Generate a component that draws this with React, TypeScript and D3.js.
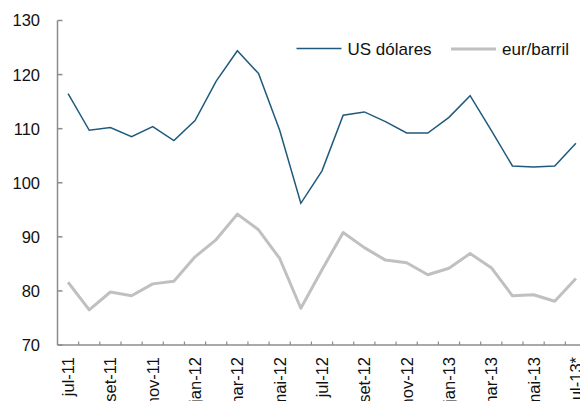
import * as d3 from "d3";
import { useEffect, useRef } from "react";

const months = [
  "jul-11", "ago-11", "set-11", "out-11", "nov-11", "dez-11",
  "jan-12", "fev-12", "mar-12", "abr-12", "mai-12", "jun-12",
  "jul-12", "ago-12", "set-12", "out-12", "nov-12", "dez-12",
  "jan-13", "fev-13", "mar-13", "abr-13", "mai-13", "jun-13", "jul-13*",
];

const usd = [
  116.5, 109.7, 110.2, 108.5, 110.4, 107.8, 111.5, 118.8, 124.4, 120.2,
  109.7, 96.2, 102.2, 112.5, 113.1, 111.3, 109.2, 109.2, 112.1, 116.1,
  109.7, 103.1, 102.9, 103.1, 107.3,
];

const eur = [
  81.6, 76.5, 79.8, 79.1, 81.3, 81.8, 86.3, 89.5, 94.2, 91.3,
  86.0, 76.8, 83.9, 90.8, 88.0, 85.7, 85.2, 83.0, 84.2, 86.9,
  84.3, 79.1, 79.3, 78.1, 82.3,
];

const yTicks = [70, 80, 90, 100, 110, 120, 130];
const seriesNames = ["US dólares", "eur/barril"];

export default function App() {
  const ref = useRef<SVGSVGElement>(null);

  useEffect(() => {
    const svg = d3.select(ref.current);
    svg.selectAll("*").remove();
    const font = "'Liberation Sans', Arial, sans-serif";
    const axisColor = "#8c8c8c";

    const x = d3.scaleBand().domain(months).range([57.5, 586.5]).padding(0);
    const cx = (m: string) => (x(m) as number) + x.bandwidth() / 2;
    const y = d3.scaleLinear().domain([70, 130]).range([345, 20.5]);

    // y axis
    svg.append("line")
      .attr("x1", 57.5).attr("x2", 57.5)
      .attr("y1", y(130)).attr("y2", y(70))
      .attr("stroke", axisColor).attr("stroke-width", 1.5);
    svg.selectAll("line.ytick")
      .data(yTicks)
      .enter()
      .append("line")
      .attr("class", "ytick")
      .attr("x1", 57.5).attr("x2", 62.5)
      .attr("y1", (d) => y(d)).attr("y2", (d) => y(d))
      .attr("stroke", axisColor).attr("stroke-width", 1.5);
    svg.selectAll("text.ylab")
      .data(yTicks)
      .enter()
      .append("text")
      .attr("class", "ylab")
      .attr("x", 40)
      .attr("y", (d) => y(d))
      .attr("dy", "0.36em")
      .attr("text-anchor", "end")
      .style("font-family", font)
      .style("font-size", "16.5px")
      .attr("fill", "#111")
      .text((d) => d);

    // x axis
    svg.append("line")
      .attr("x1", 57.5).attr("x2", 586.5)
      .attr("y1", y(70)).attr("y2", y(70))
      .attr("stroke", axisColor).attr("stroke-width", 1.5);
    svg.selectAll("line.xtick")
      .data(months.slice(1))
      .enter()
      .append("line")
      .attr("class", "xtick")
      .attr("x1", (d) => x(d) as number).attr("x2", (d) => x(d) as number)
      .attr("y1", y(70)).attr("y2", y(70) - 3.5)
      .attr("stroke", axisColor).attr("stroke-width", 1.2);
    svg.selectAll("text.xlab")
      .data(months.filter((d, i) => i % 2 === 0))
      .enter()
      .append("text")
      .attr("class", "xlab")
      .attr("transform", (d) => `translate(${cx(d)},357)rotate(-90)`)
      .attr("dy", "0.36em")
      .attr("text-anchor", "end")
      .style("font-family", font)
      .style("font-size", "16.5px")
      .attr("fill", "#111")
      .text((d) => d);

    const line = d3.line<number>()
      .x((d, i) => cx(months[i]))
      .y((d) => y(d));

    svg.append("path")
      .datum(eur)
      .attr("d", line)
      .attr("fill", "none")
      .attr("stroke", "#c0c0c0")
      .attr("stroke-width", 3)
      .attr("stroke-linejoin", "round");

    svg.append("path")
      .datum(usd)
      .attr("d", line)
      .attr("fill", "none")
      .attr("stroke", "#1f5a7c")
      .attr("stroke-width", 1.5);

    // legend
    const legend = [
      { name: seriesNames[0], color: "#1f5a7c", w: 1.5, x0: 296.5, yy: 48.5 },
      { name: seriesNames[1], color: "#c0c0c0", w: 3, x0: 451, yy: 49 },
    ];
    legend.forEach((l) => {
      svg.append("line")
        .attr("x1", l.x0).attr("x2", l.x0 + 45)
        .attr("y1", l.yy).attr("y2", l.yy)
        .attr("stroke", l.color).attr("stroke-width", l.w);
      svg.append("text")
        .attr("x", l.x0 + 51)
        .attr("y", 48.5)
        .attr("dy", "0.36em")
        .style("font-family", font)
        .style("font-size", "17px")
        .attr("fill", "#111")
        .text(l.name);
    });
  }, []);

  return (
    <svg
      ref={ref}
      width={580}
      height={401}
      style={{ position: "absolute", left: 0, top: 0, background: "#fff" }}
    />
  );
}
